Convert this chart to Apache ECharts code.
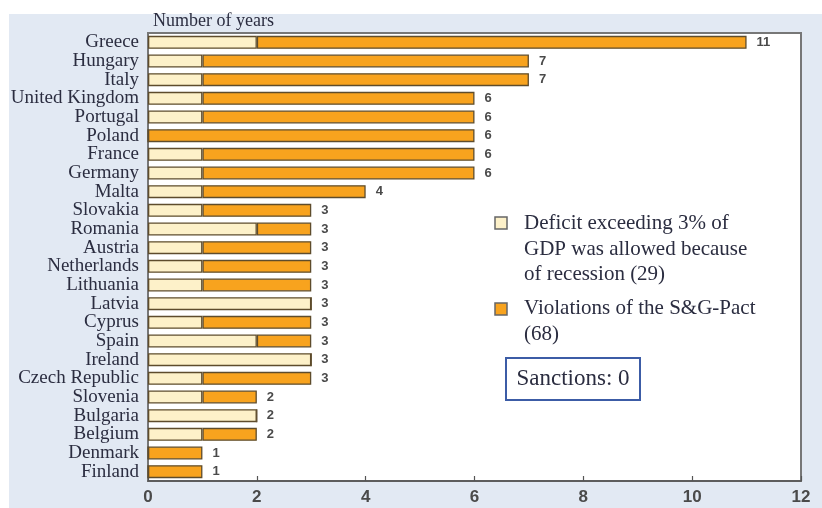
<!DOCTYPE html>
<html>
<head>
<meta charset="utf-8">
<script src="https://cdn.jsdelivr.net/npm/echarts@6/dist/echarts.min.js"></script>
<style>
  html, body { margin: 0; padding: 0; background: #ffffff; }
  #wrap { position: relative; width: 822px; height: 508px; }
  #panel { position: absolute; left: 9px; top: 14px; right: 0; bottom: 0; background: #e2e9f3; }
  #chart { position: absolute; left: 0; top: 0; width: 822px; height: 508px; }
</style>
</head>
<body>
<div id="wrap">
  <div id="panel"></div>
  <div id="chart"></div>
</div>
<script>
// Countries, from most to fewest years above the 3% deficit limit
const countries = ['Greece', 'Hungary', 'Italy', 'United Kingdom', 'Portugal', 'Poland', 'France',
  'Germany', 'Malta', 'Slovakia', 'Romania', 'Austria', 'Netherlands', 'Lithuania', 'Latvia',
  'Cyprus', 'Spain', 'Ireland', 'Czech Republic', 'Slovenia', 'Bulgaria', 'Belgium', 'Denmark', 'Finland'];

// Years where the excess deficit was allowed because of recession
const allowedYears = [2, 1, 1, 1, 1, 0, 1, 1, 1, 1, 2, 1, 1, 1, 3, 1, 2, 3, 1, 1, 2, 1, 0, 0];

// Years counted as violations of the Stability and Growth Pact
const violationYears = [9, 6, 6, 5, 5, 6, 5, 5, 3, 2, 1, 2, 2, 2, 0, 2, 1, 0, 2, 1, 0, 1, 1, 1];

// Total years per country (printed at the end of each bar)
const totalYears = [11, 7, 7, 6, 6, 6, 6, 6, 4, 3, 3, 3, 3, 3, 3, 3, 3, 3, 3, 2, 2, 2, 1, 1];

const xTicks = { min: 0, max: 12, interval: 2 };

const legendLines = [
  ['Deficit exceeding 3% of', 'GDP was allowed because', 'of recession (29)'],
  ['Violations of the S&G-Pact', '(68)']
];

const LIGHT = '#fdf1c9';
const ORANGE = '#f8a31e';
const EDGE = '#5e4c2c';
const TEXT = '#2b2d40';
const SERIF = '"Liberation Serif", "DejaVu Serif", serif';
const SANS = '"Liberation Sans", Arial, sans-serif';

const chart = echarts.init(document.getElementById('chart'), null, { renderer: 'canvas' });

const barStyle = (fill) => ({ color: fill, borderColor: EDGE, borderWidth: 1.3 });

chart.setOption({
  backgroundColor: 'transparent',
  animation: false,
  grid: {
    left: 148, right: 21, top: 33, bottom: 27,
    show: true, backgroundColor: '#ffffff', borderColor: '#777777', borderWidth: 2
  },
  xAxis: {
    type: 'value',
    min: xTicks.min, max: xTicks.max, interval: xTicks.interval,
    splitLine: { show: false },
    axisLine: { show: true, lineStyle: { color: '#555555', width: 1.5 } },
    axisTick: { show: true, inside: true, length: 5, lineStyle: { color: '#555555', width: 1.2 } },
    axisLabel: { color: '#4a4a4a', fontFamily: SANS, fontSize: 17, fontWeight: 'bold', margin: 8 }
  },
  yAxis: {
    type: 'category',
    data: countries,
    inverse: true,
    axisLine: { show: true, lineStyle: { color: '#777777', width: 1.5 } },
    axisTick: { show: false },
    axisLabel: { interval: 0, color: TEXT, fontFamily: SERIF, fontSize: 19, margin: 9 },
    name: 'Number of years',
    nameLocation: 'start',
    nameGap: 3,
    nameTextStyle: { color: TEXT, fontFamily: SERIF, fontSize: 18, align: 'left', padding: [0, 0, 0, 5] }
  },
  series: [
    {
      name: 'Allowed',
      type: 'bar',
      stack: 'years',
      barWidth: 13,
      data: allowedYears,
      itemStyle: barStyle(LIGHT)
    },
    {
      name: 'Violations',
      type: 'bar',
      stack: 'years',
      barWidth: 13,
      data: violationYears,
      itemStyle: barStyle(ORANGE)
    },
    {
      name: 'Total',
      type: 'bar',
      barWidth: 13,
      barGap: '-100%',
      data: totalYears,
      itemStyle: { color: 'transparent', borderWidth: 0 },
      silent: true,
      z: 1,
      label: {
        show: true,
        position: 'right',
        distance: 10,
        color: '#4a4a4a',
        fontFamily: SANS,
        fontSize: 13,
        fontWeight: 'bold'
      }
    }
  ],
  graphic: [
    { type: 'rect', shape: { x: 495, y: 217, width: 12, height: 12 },
      style: { fill: LIGHT, stroke: '#666666', lineWidth: 1.5 } },
    { type: 'text', left: 524, top: 211,
      style: { text: legendLines[0].join('\n'), font: '21px ' + SERIF, fill: TEXT, lineHeight: 25.5 } },
    { type: 'rect', shape: { x: 495, y: 303, width: 12, height: 12 },
      style: { fill: ORANGE, stroke: '#666666', lineWidth: 1.5 } },
    { type: 'text', left: 524, top: 296,
      style: { text: legendLines[1].join('\n'), font: '21px ' + SERIF, fill: TEXT, lineHeight: 25.5 } },
    { type: 'rect', shape: { x: 506, y: 358, width: 134, height: 42 },
      style: { fill: '#ffffff', stroke: '#3c5ca6', lineWidth: 2 } },
    { type: 'text', x: 573, y: 379,
      style: { text: 'Sanctions: 0', font: '23px ' + SERIF, fill: TEXT, align: 'center', verticalAlign: 'middle' } }
  ]
});
</script>
</body>
</html>
